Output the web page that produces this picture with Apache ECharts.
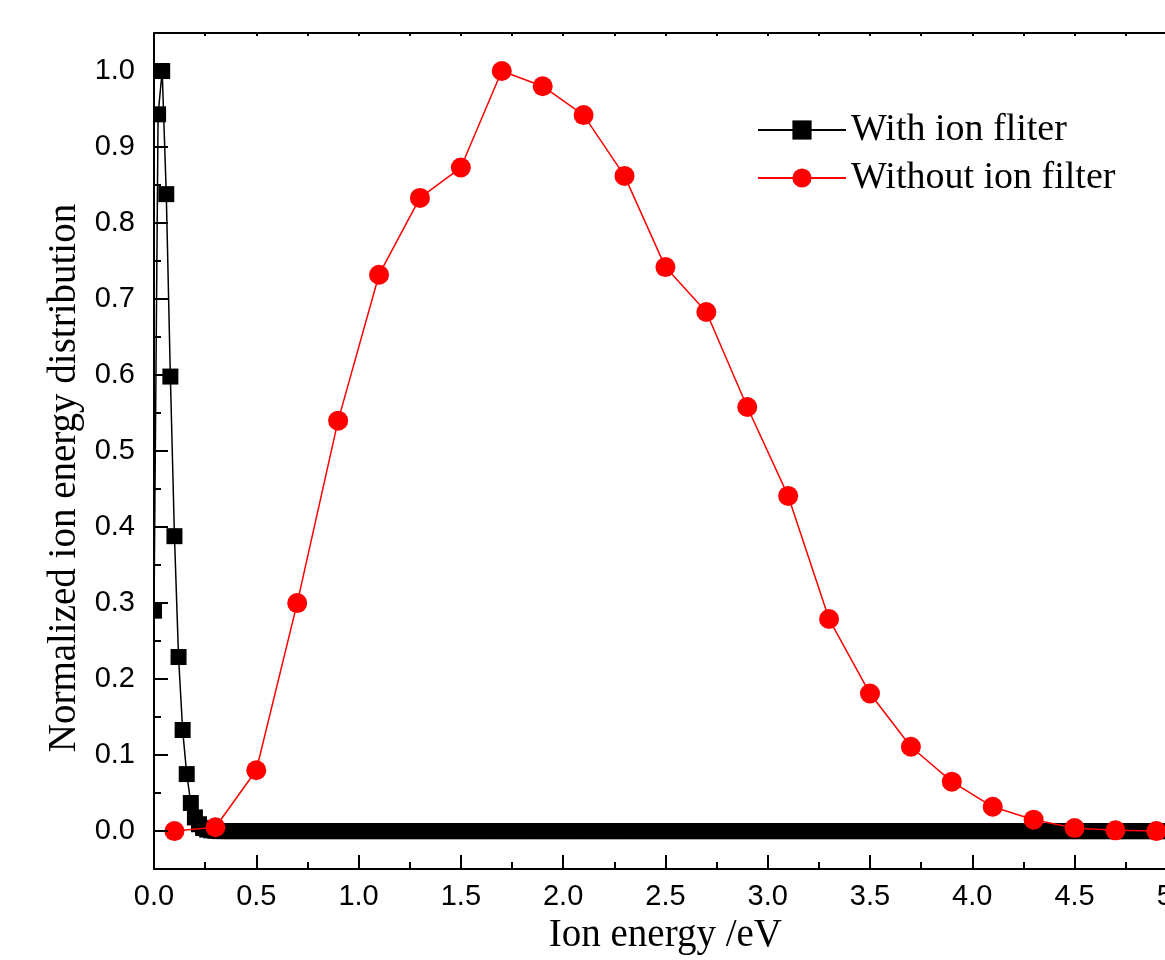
<!DOCTYPE html>
<html>
<head>
<meta charset="utf-8">
<script src="https://cdn.jsdelivr.net/npm/echarts@6/dist/echarts.min.js"></script>
<style>html,body{margin:0;padding:0;background:#fff;overflow:hidden;width:1165px;height:960px;}#c{width:1200px;height:960px;}</style>
</head>
<body>
<div id="c"></div>
<script>
// ---- data ----
const xLabelTicks = [0, 0.5, 1.0, 1.5, 2.0, 2.5, 3.0, 3.5, 4.0, 4.5, 5.0];
const yLabelTicks = [0, 0.1, 0.2, 0.3, 0.4, 0.5, 0.6, 0.7, 0.8, 0.9, 1.0];
const yMinorTicks = [0.05, 0.15, 0.25, 0.35, 0.45, 0.55, 0.65, 0.75, 0.85, 0.95];

// "With ion fliter": energy sampled every 0.02 eV from 0 to 5 eV (251 samples)
const withStep = 0.02;
const withFilterY = [
  0.29, 0.943, 1.0, 0.838, 0.598, 0.388, 0.229, 0.133, 0.075, 0.037,
  0.018, 0.009, 0.004, 0.002, 0.001, 0.0005, 0, 0, 0, 0,
  0, 0, 0, 0, 0, 0, 0, 0, 0, 0, 0, 0, 0, 0, 0, 0, 0, 0, 0, 0,
  0, 0, 0, 0, 0, 0, 0, 0, 0, 0, 0, 0, 0, 0, 0, 0, 0, 0, 0, 0,
  0, 0, 0, 0, 0, 0, 0, 0, 0, 0, 0, 0, 0, 0, 0, 0, 0, 0, 0, 0,
  0, 0, 0, 0, 0, 0, 0, 0, 0, 0, 0, 0, 0, 0, 0, 0, 0, 0, 0, 0,
  0, 0, 0, 0, 0, 0, 0, 0, 0, 0, 0, 0, 0, 0, 0, 0, 0, 0, 0, 0,
  0, 0, 0, 0, 0, 0, 0, 0, 0, 0, 0, 0, 0, 0, 0, 0, 0, 0, 0, 0,
  0, 0, 0, 0, 0, 0, 0, 0, 0, 0, 0, 0, 0, 0, 0, 0, 0, 0, 0, 0,
  0, 0, 0, 0, 0, 0, 0, 0, 0, 0, 0, 0, 0, 0, 0, 0, 0, 0, 0, 0,
  0, 0, 0, 0, 0, 0, 0, 0, 0, 0, 0, 0, 0, 0, 0, 0, 0, 0, 0, 0,
  0, 0, 0, 0, 0, 0, 0, 0, 0, 0, 0, 0, 0, 0, 0, 0, 0, 0, 0, 0,
  0, 0, 0, 0, 0, 0, 0, 0, 0, 0, 0, 0, 0, 0, 0, 0, 0, 0, 0, 0,
  0, 0, 0, 0, 0, 0, 0, 0, 0, 0,
  0
];

// "Without ion filter"
const withoutX = [0.1, 0.3, 0.5, 0.7, 0.9, 1.1, 1.3, 1.5, 1.7, 1.9, 2.1, 2.3, 2.5,
                  2.7, 2.9, 3.1, 3.3, 3.5, 3.7, 3.9, 4.1, 4.3, 4.5, 4.7, 4.9];
const withoutY = [0.0, 0.005, 0.080, 0.300, 0.540, 0.732, 0.833, 0.873, 1.0, 0.980,
                  0.942, 0.862, 0.742, 0.683, 0.558, 0.441, 0.279, 0.181, 0.111,
                  0.065, 0.032, 0.015, 0.004, 0.001, 0.0];

const seriesNames = ['With ion fliter', 'Without ion filter'];

// ---- build ----
const withData = withFilterY.map((v, i) => [+(i * withStep).toFixed(2), v]);
const withoutData = withoutX.map((x, i) => [x, withoutY[i]]);

const serifFont = '"Liberation Serif","Times New Roman",serif';
const sansFont = '"Liberation Sans",Arial,sans-serif';

const GRID_LEFT = 154, GRID_TOP = 33, GRID_BOTTOM = 90;

const chart = echarts.init(document.getElementById('c'), null, {renderer: 'canvas'});
chart.setOption({
  animation: false,
  backgroundColor: '#fff',
  grid: {left: GRID_LEFT, top: GRID_TOP, right: 16, bottom: GRID_BOTTOM, containLabel: false},
  legend: {
    orient: 'vertical',
    left: 752, top: 106,
    itemWidth: 88, itemHeight: 24, itemGap: 10,
    textStyle: {fontFamily: serifFont, fontSize: 38, color: '#000'},
    data: seriesNames
  },
  // white mask left of the y axis so markers are clipped at the plot frame
  graphic: [{
    type: 'rect', z: 50, silent: true,
    shape: {x: 138, y: GRID_TOP, width: GRID_LEFT - 138 - 1, height: 960 - GRID_TOP - GRID_BOTTOM},
    style: {fill: '#fff'}
  }],
  xAxis: [{
    type: 'value', min: 0, max: 5, interval: 0.5, position: 'bottom', z: 60,
    name: 'Ion energy /eV', nameLocation: 'middle', nameGap: 46,
    nameTextStyle: {fontFamily: serifFont, fontSize: 39, color: '#000'},
    axisLine: {show: true, onZero: false, lineStyle: {color: '#000', width: 2}},
    axisTick: {show: true, inside: true, length: 14, lineStyle: {color: '#000', width: 2}},
    minorTick: {show: true, splitNumber: 2, length: 7, lineStyle: {color: '#000', width: 2}},
    axisLabel: {fontFamily: sansFont, fontSize: 29, color: '#000', margin: 13,
                customValues: xLabelTicks, formatter: v => v.toFixed(1)},
    splitLine: {show: false}
  }, {
    type: 'value', min: 0, max: 5, interval: 0.5, position: 'top', z: 60,
    axisLine: {show: true, onZero: false, lineStyle: {color: '#000', width: 2}},
    axisTick: {show: true, inside: true, length: 3, lineStyle: {color: '#000', width: 2}},
    minorTick: {show: true, splitNumber: 2, length: 3, lineStyle: {color: '#000', width: 2}},
    axisLabel: {show: false},
    splitLine: {show: false}
  }],
  yAxis: [{
    type: 'value', min: -0.05, max: 1.05, position: 'left', z: 60,
    name: 'Normalized ion energy distribution', nameLocation: 'middle', nameGap: 65,
    nameRotate: 90,
    nameTextStyle: {fontFamily: serifFont, fontSize: 39, color: '#000', padding: [0, 54, 0, 0]},
    axisLine: {show: true, onZero: false, lineStyle: {color: '#000', width: 2}},
    axisTick: {show: true, inside: true, length: 14, customValues: yLabelTicks,
               lineStyle: {color: '#000', width: 2}},
    axisLabel: {fontFamily: sansFont, fontSize: 29, color: '#000', margin: 19,
                customValues: yLabelTicks, formatter: v => v.toFixed(1)},
    splitLine: {show: false}
  }, {
    type: 'value', min: -0.05, max: 1.05, position: 'left', z: 60,
    axisLine: {show: false},
    axisTick: {show: true, inside: true, length: 7, customValues: yMinorTicks,
               lineStyle: {color: '#000', width: 2}},
    axisLabel: {show: false},
    splitLine: {show: false}
  }],
  series: [{
    name: seriesNames[0], type: 'line', xAxisIndex: 0, yAxisIndex: 0,
    data: withData, symbol: 'rect', symbolSize: 16, z: 2,
    lineStyle: {color: '#000', width: 1.5},
    itemStyle: {color: '#000'}
  }, {
    name: seriesNames[1], type: 'line', xAxisIndex: 0, yAxisIndex: 0,
    data: withoutData, symbol: 'circle', symbolSize: 20, z: 3,
    lineStyle: {color: '#ff0000', width: 1.5},
    itemStyle: {color: '#ff0000'}
  }]
});
</script>
</body>
</html>
